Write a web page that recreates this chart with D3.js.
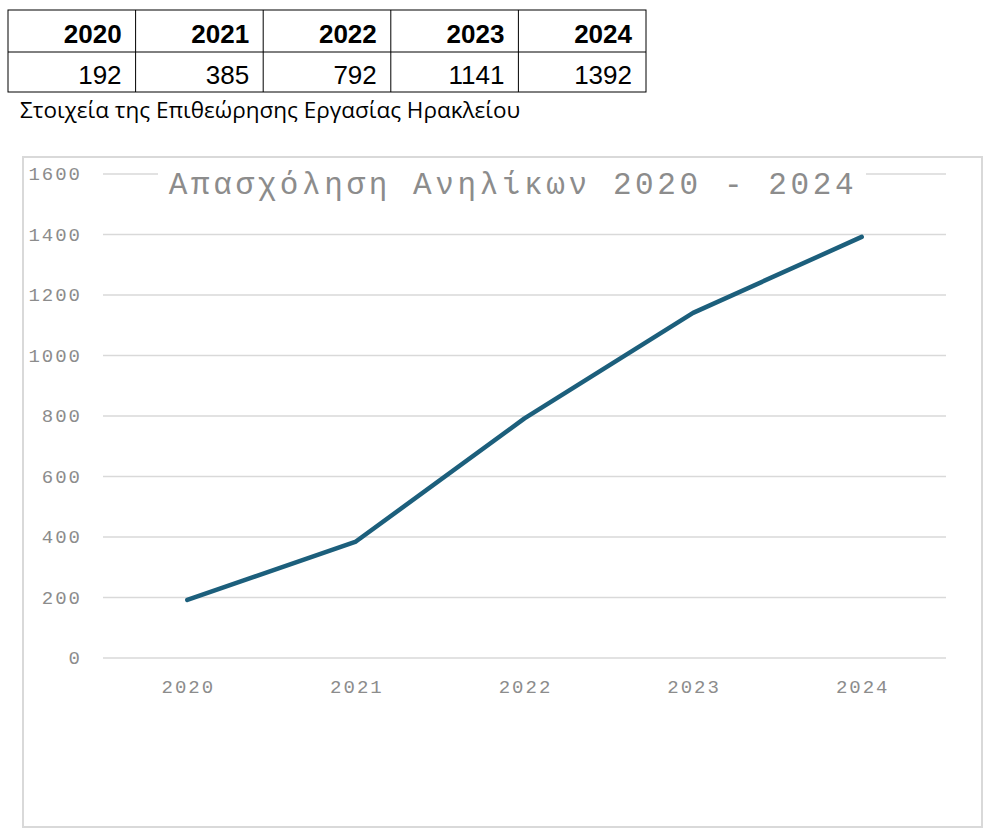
<!DOCTYPE html>
<html><head><meta charset="utf-8">
<script src="https://cdn.jsdelivr.net/npm/d3@7"></script>
<style>body{margin:0;background:#fff}</style>
</head><body>
<svg id="c" width="1004" height="833"></svg>
<script>
var years = ["2020", "2021", "2022", "2023", "2024"];
var counts = [192, 385, 792, 1141, 1392];
var yTicks = [0, 200, 400, 600, 800, 1000, 1200, 1400, 1600];
var title = "Απασχόληση Ανηλίκων 2020 - 2024";
var caption = "Στοιχεία της Επιθεώρησης Εργασίας Ηρακλείου";

var svg = d3.select("#c");

// table
var tx = d3.scaleBand().domain(years).range([8, 646]);
var table = svg.append("g");
table.append("rect").attr("x", 8).attr("y", 10).attr("width", 638).attr("height", 82)
    .attr("fill", "none").attr("stroke", "#000").attr("stroke-width", 1);
table.append("line").attr("x1", 8).attr("x2", 646).attr("y1", 52).attr("y2", 52).attr("stroke", "#000");
years.slice(1).forEach(function(y) {
    table.append("line").attr("x1", tx(y)).attr("x2", tx(y)).attr("y1", 10).attr("y2", 92).attr("stroke", "#000");
});
table.selectAll("text.h").data(years).enter().append("text")
    .attr("x", function(d) { return tx(d) + tx.bandwidth() - 14; })
    .attr("y", 43).attr("text-anchor", "end")
    .attr("font-family", "Liberation Sans, Arial").attr("font-weight", "bold").attr("font-size", "26px")
    .text(function(d) { return d; });
table.selectAll("text.v").data(counts).enter().append("text")
    .attr("x", function(d, i) { return tx(years[i]) + tx.bandwidth() - 14; })
    .attr("y", 84).attr("text-anchor", "end")
    .attr("font-family", "Liberation Sans, Arial").attr("font-size", "26px")
    .text(function(d) { return d; });
svg.append("text").attr("x", 20).attr("y", 118)
    .attr("font-family", "Open Sans").attr("font-size", "22.5px").attr("fill", "#000")
    .text(caption);

// chart frame
svg.append("rect").attr("x", 23).attr("y", 157).attr("width", 959).attr("height", 670)
    .attr("fill", "#fff").attr("stroke", "#d9d9d9").attr("stroke-width", 2);

var x = d3.scaleBand().domain(years).range([103, 946]);
var y = d3.scaleLinear().domain([0, 1600]).range([658, 174]);

svg.append("g").selectAll("line").data(yTicks).enter().append("line")
    .attr("x1", 103).attr("x2", 946)
    .attr("y1", function(d) { return y(d); }).attr("y2", function(d) { return y(d); })
    .attr("stroke", "#d9d9d9").attr("stroke-width", 1.5);

var mono = "Liberation Mono, DejaVu Sans Mono, monospace";
svg.append("g").selectAll("text").data(yTicks).enter().append("text")
    .attr("x", 82).attr("y", function(d) { return y(d) + 6; })
    .attr("text-anchor", "end").attr("font-family", mono).attr("font-size", "19px")
    .attr("letter-spacing", "2px").attr("fill", "#8c8c8c")
    .text(function(d) { return d; });
svg.append("g").selectAll("text").data(years).enter().append("text")
    .attr("x", function(d) { return x(d) + x.bandwidth() / 2 + 1; }).attr("y", 693)
    .attr("text-anchor", "middle").attr("font-family", mono).attr("font-size", "19px")
    .attr("letter-spacing", "2px").attr("fill", "#8c8c8c")
    .text(function(d) { return d; });

svg.append("rect").attr("x", 158).attr("y", 162).attr("width", 708).attr("height", 40).attr("fill", "#fff");
svg.append("text").attr("x", 513).attr("y", 194).attr("text-anchor", "middle")
    .attr("font-family", mono).attr("font-size", "31px").attr("letter-spacing", "3.6px").attr("fill", "#8c8c8c")
    .text(title);

var line = d3.line()
    .x(function(d, i) { return x(years[i]) + x.bandwidth() / 2; })
    .y(function(d) { return y(d); });
svg.append("path").datum(counts).attr("d", line)
    .attr("fill", "none").attr("stroke", "#1c5f7c").attr("stroke-width", 4.5)
    .attr("stroke-linecap", "round").attr("stroke-linejoin", "round");
</script>
</body></html>
